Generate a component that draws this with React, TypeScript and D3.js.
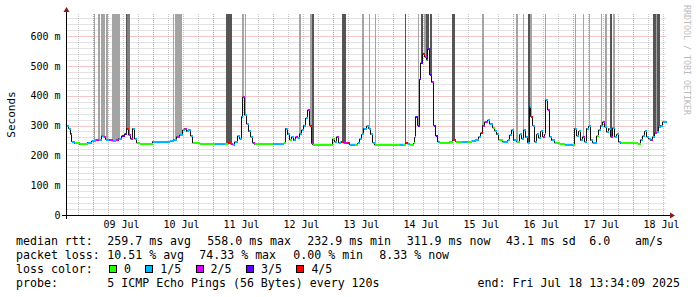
import React from "react";
import * as d3 from "d3";

// ---------- data ----------
const START = new Date(2025, 6, 8, 13, 34, 9);
const END = new Date(2025, 6, 18, 13, 34, 9);

// hours after START, median rtt (ms), loss class (0..4)
const sampleHours = [0.0,0.8,1.6,2.0,3.2,5.2,7.2,8.4,10.0,11.6,12.8,14.0,14.8,15.6,16.8,18.4,19.6,20.8,22.0,23.2,24.0,24.8,25.6,26.4,27.2,28.0,29.2,33.2,34.4,37.2,41.2,42.8,44.0,45.2,46.4,47.2,48.0,48.8,49.6,50.4,53.2,57.2,59.2,62.0,63.2,64.4,65.6,66.4,67.2,68.4,69.2,70.0,70.4,71.2,72.0,72.8,73.6,74.4,75.2,81.2,82.4,86.0,86.8,87.6,88.4,89.2,90.0,90.8,91.6,92.4,93.2,94.0,94.8,95.6,96.4,97.2,98.0,98.4,105.2,106.4,107.2,108.0,108.8,109.6,110.8,112.0,113.2,115.2,116.4,117.2,118.0,118.8,120.0,120.8,121.6,122.4,123.2,133.2,134.4,135.6,136.4,137.2,138.8,139.2,139.6,140.4,141.2,141.6,142.4,143.2,144.0,144.4,145.2,146.0,146.8,147.6,148.4,149.2,153.2,154.4,155.6,158.0,160.4,162.0,163.6,164.8,165.6,166.4,167.2,168.4,169.2,170.4,171.2,172.0,172.8,174.4,176.4,177.2,178.0,178.8,180.0,181.2,182.0,182.8,183.6,184.4,185.2,185.6,186.4,187.2,188.0,188.8,189.6,190.4,191.2,191.6,192.4,193.2,194.0,195.2,197.2,199.2,201.2,202.4,203.2,204.0,204.8,205.6,206.4,207.2,208.0,208.8,209.6,210.4,211.2,212.0,212.8,213.6,214.4,215.2,216.0,216.8,217.6,218.4,219.2,220.0,220.8,221.6,228.4,229.6,230.4,231.2,232.0,232.8,233.6,234.4,235.2,236.0,236.8,237.6,238.4,239.6];
const medianMs = [297,290,270,246,240,237,238,243,248,252,250,265,262,253,250,248,250,256,265,272,290,268,255,290,255,242,239,239,246,246,247,252,262,268,285,290,280,286,265,242,239,239,239,239,239,240,238,236,245,265,255,330,395,335,305,280,262,242,237,237,237,237,240,290,270,252,262,250,262,258,272,285,300,325,352,300,240,236,236,255,245,262,242,245,242,240,236,236,240,255,270,290,298,290,270,243,235,236,236,240,238,236,240,260,330,300,455,510,540,530,520,556,470,445,300,265,245,242,245,250,246,246,246,248,252,262,275,300,312,318,305,292,282,270,252,245,250,268,285,250,245,270,255,285,260,242,362,330,300,245,270,258,280,262,270,385,352,262,250,242,238,236,236,235,290,265,280,250,262,245,290,298,250,242,240,265,285,300,312,295,278,290,262,292,262,270,245,240,239,252,265,280,262,255,250,262,275,278,295,300,312,313];
const lossClass = [1,1,2,1,0,0,0,1,1,2,1,1,2,1,2,1,2,1,3,3,4,2,2,1,1,0,0,0,1,1,1,1,2,1,1,2,1,1,1,0,0,0,1,1,0,4,2,1,1,1,1,1,2,1,1,1,1,2,0,0,1,1,0,1,1,0,1,1,2,1,1,1,1,1,2,4,2,0,0,0,1,2,1,4,2,4,1,0,1,1,1,1,1,1,1,1,0,1,0,4,1,0,0,1,3,3,3,3,4,2,2,3,3,2,3,3,1,0,0,4,0,1,0,1,1,1,4,2,2,1,1,0,1,1,0,1,1,1,1,1,0,1,1,1,1,1,1,4,1,1,1,1,1,2,1,1,2,1,1,0,0,1,1,0,1,1,1,1,2,1,1,1,1,1,1,0,1,1,2,1,1,1,2,1,1,1,1,0,0,1,1,1,1,1,2,1,2,1,1,1,1,1];

// smoke bars: [startHour, endHour, shade 0=light 1=mid 2=dark]
const smokeStart = [0.8,1.6,10.8,12.6,13.6,15.9,18.3,23.6,24.0,42.4,43.2,43.9,63.9,70.0,71.2,92.8,97.2,98.0,110.0,118.3,120.8,123.5,135.2,140.5,141.6,142.9,143.9,145.5,154.3,166.3,179.9,182.5,184.5,185.2,191.2,203.2,206.5,208.8,213.6,215.5,217.2,218.5,234.5,235.6,236.0];
const smokeEnd   = [1.1,1.9,11.5,13.2,15.2,16.7,21.2,24.0,25.5,42.8,43.8,46.3,66.1,70.8,71.9,93.6,98.0,98.9,111.9,119.1,121.5,123.9,135.6,140.9,142.5,143.9,144.8,146.1,155.5,166.8,180.5,183.1,185.2,186.0,191.9,203.9,207.1,209.2,214.1,216.1,218.1,219.2,235.6,236.0,237.2];
const smokeShade = [0,0,0,0,0,0,0,2,1,0,0,0,2,0,0,0,0,2,2,0,0,0,2,0,2,0,2,2,2,0,0,0,2,0,0,0,0,0,0,0,2,0,2,0,2];

const yTicksMajor = [0, 100, 200, 300, 400, 500, 600];
const lossLabels = ["0", "1/5", "2/5", "3/5", "4/5"];
const lossColors = ["#26ff00", "#00b8ff", "#dd00ff", "#5e00ff", "#ff0000"];
const shadeColors = ["#a4a4a4", "#808080", "#555555"];

const legendRtt = ["median rtt:", "259.7 ms avg", "558.0 ms max", "232.9 ms min", "311.9 ms now", "43.1 ms sd", "6.0", "am/s"];
const legendLoss = ["packet loss:", "10.51 % avg", "74.33 % max", "0.00 % min", "8.33 % now"];
const probeText = ["probe:", "5 ICMP Echo Pings (56 Bytes) every 120s", "end: Fri Jul 18 13:34:09 2025"];

// ---------- layout ----------
const W = 697, H = 297;
const X0 = 66.5, X1 = 666.5, YB = 215, YT = 14;
const MONO = "'DejaVu Sans Mono', monospace";

export default function App() {
  const x = d3.scaleTime().domain([START, END]).range([X0, X1]);
  const y = d3.scaleLinear().domain([0, 674]).range([YB, YT]);
  const tOf = (h: number) => new Date(START.getTime() + h * 3600e3);
  const totalH = 240;

  const valueAt = (h: number) => {
    const i = Math.max(0, d3.bisectRight(sampleHours, h) - 1);
    return medianMs[i];
  };

  // grid
  const minorV = d3.timeHour.every(6)!.range(START, END).filter((d) => d.getHours() !== 0);
  const majorV = d3.timeDay.range(START, END);
  const labelDays = d3.timeDay.range(d3.timeDay.floor(START), END)
    .map((d) => d3.timeHour.offset(d, 12))
    .filter((d) => d >= START && d <= END);
  const minorH = d3.range(20, 674, 20).filter((v) => v % 100 !== 0);
  const fmtDay = d3.timeFormat("%d %b");
  const px = (v: number) => Math.round(v) + 0.5;

  // smoke areas
  const area = d3.area<[number, number]>()
    .curve(d3.curveStepAfter)
    .x((d) => x(tOf(d[0])))
    .y0(YT)
    .y1((d) => y(d[1]) - 1);
  const smokePaths = smokeStart.map((s, k) => {
    const e = smokeEnd[k];
    const pts: [number, number][] = [[s, valueAt(s)]];
    sampleHours.forEach((h, j) => { if (h > s && h < e) pts.push([h, medianMs[j]]); });
    pts.push([e, valueAt(e - 1e-6)]);
    return { d: area(pts) || "", fill: shadeColors[smokeShade[k]] };
  });

  // median step line
  const stepPts: [number, number][] = sampleHours.map((h, i) => [h, medianMs[i]]);
  stepPts.push([totalH, medianMs[medianMs.length - 1]]);
  const stepLine = d3.line<[number, number]>()
    .curve(d3.curveStepAfter)
    .x((d) => x(tOf(d[0])))
    .y((d) => y(d[1]));
  const segs = sampleHours.map((h, i) => {
    const hn = i + 1 < sampleHours.length ? sampleHours[i + 1] : totalH;
    return { x1: x(tOf(h)), x2: x(tOf(hn)), yy: y(medianMs[i]), c: lossColors[lossClass[i]] };
  });

  // legend swatch positions
  const swatches: { sx: number; lx: number; label: string; color: string }[] = [];
  let sx = 109.5;
  lossLabels.forEach((l, i) => {
    const lx = sx + 14.5;
    swatches.push({ sx, lx, label: l, color: lossColors[i] });
    sx = lx + l.length * 7.1 + 14.6;
  });

  const rttX = [16, 107.3, 207.3, 307.3, 406.7, 506, 589.3, 635];
  const lossX = [16, 107.3, 199.3, 293.3, 379.3];
  const legendFs = 11.6;

  return (
    <svg width={W} height={H} style={{ position: "absolute", left: 0, top: 0, background: "#fff" }}
      xmlns="http://www.w3.org/2000/svg">
      <rect x={0} y={0} width={W} height={H} fill="#ffffff" />
      {/* grid */}
      <g strokeWidth={1}>
        {minorH.map((v) => (
          <path key={"mh" + v} d={`M${X0},${px(y(v))}H${X1}`} stroke="#c4c4c4" strokeDasharray="1,1" fill="none" />
        ))}
        {minorV.map((d) => (
          <path key={"mv" + +d} d={`M${px(x(d))},${YT}V${YB}`} stroke="#c4c4c4" strokeDasharray="1,1" fill="none" />
        ))}
        {yTicksMajor.filter((v) => v > 0).map((v) => (
          <path key={"Mh" + v} d={`M${X0},${px(y(v))}H${X1}`} stroke="#ee8c8c" strokeDasharray="1,1" fill="none" />
        ))}
        {majorV.map((d) => (
          <path key={"Mv" + +d} d={`M${px(x(d))},${YT}V${YB}`} stroke="#ee8c8c" strokeDasharray="1,1" fill="none" />
        ))}
      </g>
      {/* smoke */}
      <g shapeRendering="crispEdges">
        {smokePaths.map((p, i) => <path key={"s" + i} d={p.d} fill={p.fill} />)}
      </g>
      {/* median */}
      <path d={stepLine(stepPts) || ""} fill="none" stroke="#111" strokeWidth={1} />
      <g shapeRendering="crispEdges">
        {segs.map((s, i) => (
          <line key={"seg" + i} x1={s.x1} x2={s.x2} y1={s.yy} y2={s.yy} stroke={s.c} strokeWidth={2} />
        ))}
      </g>
      {/* axes */}
      <g shapeRendering="crispEdges">
        <line x1={62} x2={670} y1={YB + 0.5} y2={YB + 0.5} stroke="#000" />
        <line x1={X0} x2={X0} y1={YT - 3} y2={YB + 4} stroke="#000" />
      </g>
      <path d={`M${670},${YB - 2.5} L${675},${YB + 0.5} L${670},${YB + 3.5} Z`} fill="#8b1a1a" />
      <path d={`M${X0 - 3},${YT - 2} L${X0},${YT - 7} L${X0 + 3},${YT - 2} Z`} fill="#8b1a1a" />
      {/* y labels */}
      <g fontFamily={MONO} fontSize={10} fill="#000" textAnchor="end">
        {yTicksMajor.map((v) => (
          <text key={"yl" + v} x={60.5} y={y(v) + 3.7}>{v === 0 ? "0" : `${v} m`}</text>
        ))}
      </g>
      {/* x labels */}
      <g fontFamily={MONO} fontSize={10} fill="#000" textAnchor="middle">
        {labelDays.map((d) => (
          <text key={"xl" + +d} x={x(d) - 1} y={228}>{fmtDay(d)}</text>
        ))}
      </g>
      <text transform="translate(15,114.5) rotate(-90)" textAnchor="middle" fontFamily={MONO} fontSize={11} fill="#000">Seconds</text>
      <text transform="translate(684,5) rotate(90)" fontFamily={MONO} fontSize={8.3} fill="#bbbbbb">RRDTOOL / TOBI OETIKER</text>
      {/* legend */}
      <g fontFamily={MONO} fontSize={legendFs} fill="#000" style={{ whiteSpace: "pre" }}>
        {legendRtt.map((t, i) => <text key={"r" + i} x={rttX[i]} y={245}>{t}</text>)}
        {legendLoss.map((t, i) => <text key={"l" + i} x={lossX[i]} y={258.5}>{t}</text>)}
        <text x={16} y={272.7}>loss color:</text>
        {swatches.map((s, i) => (
          <g key={"sw" + i}>
            <rect x={s.sx} y={265.5} width={7} height={7} fill={s.color} stroke="#000" strokeWidth={1} shapeRendering="crispEdges" />
            <text x={s.lx} y={272.7}>{s.label}</text>
          </g>
        ))}
        <text x={16} y={286.7}>{probeText[0]}</text>
        <text x={107.3} y={286.7}>{probeText[1]}</text>
        <text x={680} y={286.7} textAnchor="end">{probeText[2]}</text>
      </g>
    </svg>
  );
}
